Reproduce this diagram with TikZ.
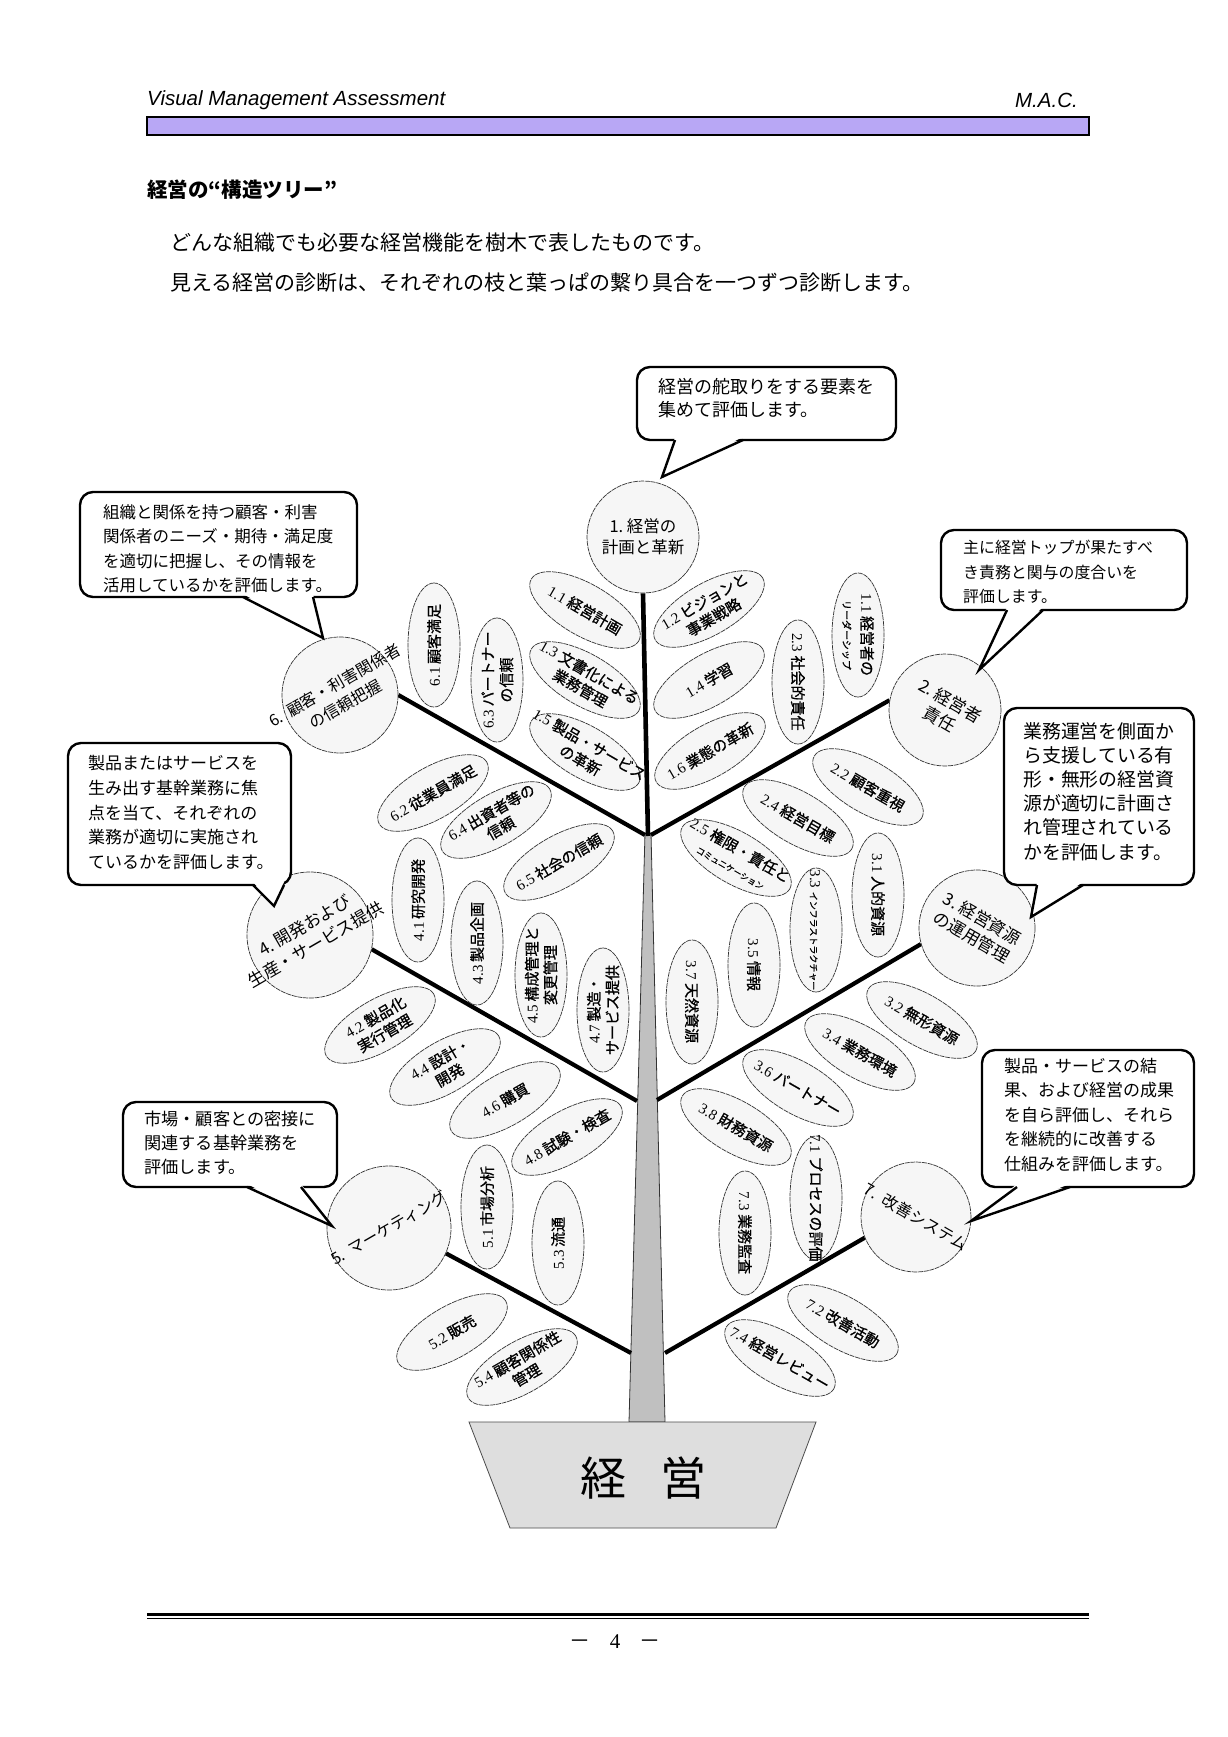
\documentclass[tikz,border=0pt]{standalone}
\usepackage{fontspec}
\usepackage{graphicx}
\setmainfont{Liberation Serif}
\newfontfamily\jp{Noto Sans CJK JP}
\newfontfamily\jpleaf[FakeBold=0.9]{Noto Sans CJK JP}
\newfontfamily\ars{Liberation Sans}
\usetikzlibrary{shapes.geometric}
\pgfdeclarelayer{paper}
\pgfdeclarelayer{bg}
\pgfsetlayers{paper,bg,main}
\XeTeXlinebreaklocale "ja"
\XeTeXlinebreakskip=0pt plus 2pt
\definecolor{barpurple}{RGB}{184,167,245}
\definecolor{leaffill}{RGB}{246,246,246}
\definecolor{trunkgray}{RGB}{192,192,192}
\definecolor{potgray}{RGB}{222,222,222}
\newcommand\ctr[1]{\makebox[0pt]{\raisebox{-0.38em}[0pt][0pt]{\begin{tabular}{@{}c@{}}#1\end{tabular}}}}
\newcommand\nm[1]{{\rmfamily #1}}
\newcommand\jst[2]{\makebox[#1][s]{#2}}
\newcommand\smtxt[2]{{\fontsize{#1}{12}\selectfont #2}}
\begin{document}
\begin{tikzpicture}[x=1pt,y=-1pt,
  leaf/.style={ellipse, draw=black!80, line width=0.7pt, dash pattern=on 5pt off 0.8pt, fill=leaffill,
    minimum width=124pt, minimum height=52pt, inner sep=0pt, font=\jpleaf\fontsize{15}{18.5}\selectfont},
  maincirc/.style={circle, draw=black!80, line width=0.7pt, dash pattern=on 5pt off 0.8pt, fill=leaffill,
    inner sep=0pt, font=\jp\fontsize{16.5}{21}\selectfont},
  branchline/.style={line width=4.2pt},
  bubble/.style={draw=black, line width=2.4pt, fill=white, rounded corners=13pt},
  tailline/.style={draw=black, line width=2.4pt, line join=miter},
  btext/.style={anchor=north west, inner sep=0pt, align=left},
  plain/.style={inner sep=0pt}
]
\useasboundingbox (0,0) rectangle (1228,1737);
\begin{pgfonlayer}{paper}
  \fill[white] (0,0) rectangle (1228,1737);
\end{pgfonlayer}

% header
\node[plain, anchor=west, font=\ars\itshape\fontsize{20.5}{24}\selectfont] (hdr) at (147,100) {Visual Management Assessment};
\node[plain, anchor=east, font=\ars\itshape\fontsize{20.5}{24}\selectfont] (mac) at (1078,100) {M.A.C.};
\draw[line width=2pt, fill=barpurple] (147,117) rectangle (1089,135);

% title and intro
\node[plain, anchor=west, font=\jp\bfseries\fontsize{20.5}{24}\selectfont] (title) at (147,190) {経営の“構造ツリー”};
\node[plain, anchor=west, font=\jp\fontsize{21}{25}\selectfont] (intro1) at (170,243) {どんな組織でも必要な経営機能を樹木で表したものです。};
\node[plain, anchor=west, font=\jp\fontsize{21}{25}\selectfont] (intro2) at (170,283) {見える経営の診断は、それぞれの枝と葉っぱの繋り具合を一つずつ診断します。};

% leaves - left
\node[leaf, rotate=-30] (l11) at (585,610) {\ctr{\nm{1.1} 経営計画}};
\node[leaf, rotate=30] (l12) at (709,609) {\ctr{\nm{1.2} ビジョンと\\事業戦略}};
\node[leaf, rotate=-30] (l13) at (585,680) {\ctr{\nm{1.3} 文書化による\\業務管理}};
\node[leaf, rotate=30] (l14) at (709,680) {\ctr{\nm{1.4} 学習}};
\node[leaf, rotate=-30] (l15) at (585,752) {\ctr{\nm{1.5} 製品・サービス\\の革新}};
\node[leaf, rotate=30] (l16) at (710,751) {\ctr{\nm{1.6} 業態の革新}};
\node[leaf, rotate=90] (l61) at (434,645) {\ctr{\nm{6.1} 顧客満足}};
\node[leaf, rotate=90] (l63) at (497,680) {\ctr{\nm{6.3} パートナー\\の信頼}};
\node[leaf, rotate=30] (l62) at (433,793) {\ctr{\nm{6.2} 従業員満足}};
\node[leaf, rotate=30] (l64) at (496,820) {\ctr{\nm{6.4} 出資者等の\\信頼}};
\node[leaf, rotate=30] (l65) at (559,862) {\ctr{\nm{6.5} 社会の信頼}};
\node[leaf, rotate=90] (l41) at (418,900) {\ctr{\nm{4.1} 研究開発}};
\node[leaf, rotate=90] (l43) at (477,943) {\ctr{\nm{4.3} 製品企画}};
\node[leaf, rotate=90] (l45) at (541,975) {\ctr{\nm{4.5} 構成管理と\\変更管理}};
\node[leaf, rotate=90] (l47) at (603,1010) {\ctr{\nm{4.7} 製造・\\サービス提供}};
\node[leaf, rotate=30] (l42) at (380,1025) {\ctr{\nm{4.2} 製品化\\実行管理}};
\node[leaf, rotate=30] (l44) at (445,1067) {\ctr{\nm{4.4} 設計・\\開発}};
\node[leaf, rotate=30] (l46) at (505,1100) {\ctr{\nm{4.6} 購買}};
\node[leaf, rotate=30] (l48) at (567,1137) {\ctr{\nm{4.8} 試験・検査}};
\node[leaf, rotate=90] (l51) at (487,1207) {\ctr{\nm{5.1} 市場分析}};
\node[leaf, rotate=90] (l53) at (558,1243) {\ctr{\nm{5.3} 流通}};
\node[leaf, rotate=30] (l52) at (452,1332) {\ctr{\nm{5.2} 販売}};
\node[leaf, rotate=30] (l54) at (522,1367) {\ctr{\nm{5.4} 顧客関係性\\管理}};

% leaves - right
\node[leaf, rotate=-90] (l21) at (858,635) {\ctr{\nm{1.1} 経営者の\\\smtxt{10}{リーダーシップ}}};
\node[leaf, rotate=-90] (l23) at (798,682) {\ctr{\nm{2.3} 社会的責任}};
\node[leaf, rotate=-30] (l22) at (868,787) {\ctr{\nm{2.2} 顧客重視}};
\node[leaf, rotate=-30] (l24) at (798,818) {\ctr{\nm{2.4} 経営目標}};
\node[leaf, rotate=-30] (l25) at (736,858) {\ctr{\nm{2.5} 権限・責任と\\\smtxt{8.5}{コミュニケーション}}};
\node[leaf, rotate=-90] (l31) at (878,895) {\ctr{\nm{3.1} 人的資源}};
\node[leaf, rotate=-90] (l33) at (816,930) {\ctr{\nm{3.3} \smtxt{9}{インフラストラクチャー}}};
\node[leaf, rotate=-90] (l35) at (754,965) {\ctr{\nm{3.5} 情報}};
\node[leaf, rotate=-90] (l37) at (692,1002) {\ctr{\nm{3.7} 天然資源}};
\node[leaf, rotate=-30] (l32) at (922,1020) {\ctr{\nm{3.2} 無形資源}};
\node[leaf, rotate=-30] (l34) at (860,1052) {\ctr{\nm{3.4} 業務環境}};
\node[leaf, rotate=-30] (l36) at (798,1088) {\ctr{\nm{3.6} パートナー}};
\node[leaf, rotate=-30] (l38) at (736,1127) {\ctr{\nm{3.8} 財務資源}};
\node[leaf, rotate=-90] (l71) at (816,1198) {\ctr{\nm{7.1} プロセスの評価}};
\node[leaf, rotate=-90] (l73) at (745,1233) {\ctr{\nm{7.3} 業務監査}};
\node[leaf, rotate=-30] (l72) at (843,1323) {\ctr{\nm{7.2} 改善活動}};
\node[leaf, rotate=-30] (l74) at (780,1358) {\ctr{\nm{7.4} 経営レビュー}};

% main circles
\node[maincirc, minimum size=112pt] (c1) at (643,537) {\ctr{1.\ 経営の\\計画と革新}};
\node[maincirc, minimum size=116pt, font=\jp\fontsize{16}{22}\selectfont] (c6) at (340,695) {\rotatebox{30}{\ctr{6.\ \ 顧客・利害関係者\\の信頼把握}}};
\node[maincirc, minimum size=112pt, font=\jp\fontsize{17}{21}\selectfont] (c2) at (945,710) {\rotatebox{-30}{\ctr{2.\ 経営者\\責任}}};
\node[maincirc, minimum size=116pt, font=\jp\fontsize{17}{21}\selectfont] (c3) at (977,928) {\rotatebox{-30}{\ctr{3.\ 経営資源\\の運用管理}}};
\node[maincirc, minimum size=126pt, font=\jp\fontsize{17}{22}\selectfont] (c4) at (310,935) {\rotatebox{30}{\ctr{4.\ 開発および\\生産・サービス提供}}};
\node[maincirc, minimum size=124pt, font=\jp\fontsize{16}{20}\selectfont] (c5) at (389,1228) {\rotatebox{30}{\ctr{5.\ \ マーケティング}}};
\node[maincirc, minimum size=110pt, font=\jp\fontsize{16}{20}\selectfont] (c7) at (916,1217) {\rotatebox{-30}{\ctr{7.\ \ 改善システム}}};

% trunk junction points
\coordinate (jtop) at (648,836);
\coordinate (j6) at (645,835);
\coordinate (j2) at (651,835);
\coordinate (j4) at (637,1101);
\coordinate (j3) at (657,1100);
\coordinate (j5) at (631,1353);
\coordinate (j7) at (665,1353);

\begin{pgfonlayer}{bg}
  \filldraw[fill=trunkgray, draw=black!80, line width=0.8pt] (645,833) -- (651,833) -- (665,1422) -- (629,1422) -- cycle;
  \draw[line width=4.6pt] (c1.south) -- (jtop);
  \draw[branchline] (c6.0) -- (j6);
  \draw[branchline] (c2.170) -- (j2);
  \draw[branchline] (c4.-13) -- (j4);
  \draw[branchline] (c3.196) -- (j3);
  \draw[branchline] (c5.-24) -- (j5);
  \draw[branchline] (c7.202) -- (j7);
\end{pgfonlayer}

% pot
\filldraw[fill=potgray, draw=black!70, line width=0.8pt] (469,1422) -- (816,1422) -- (776,1528) -- (510,1528) -- cycle;
\node[plain, font=\jp\fontsize{46}{50}\selectfont] (potlabel) at (643,1478) {経\hspace{34pt}営};

% bubble A (top)
\draw[bubble] (637,367) rectangle (896,440);
\fill[white] (675,437) -- (662,477) -- (743,437) -- cycle;
\draw[tailline] (675,440) -- (662,477) -- (743,440);
\node[btext, font=\jp\fontsize{18}{23}\selectfont] (bA) at (658,378) {経営の舵取りをする要素を\\集めて評価します。};

% bubble B (top left)
\draw[bubble] (80,492) rectangle (357,597);
\fill[white] (243,594) -- (323,638) -- (313,594) -- cycle;
\draw[tailline] (243,597) -- (323,638) -- (313,597);
\node[btext, font=\jp\fontsize{16.5}{24.5}\selectfont] (bB) at (103,504) {\jst{233pt}{組織と関係を持つ顧客・利害}\\\jst{233pt}{関係者のニーズ・期待・満足度}\\\jst{233pt}{を適切に把握し、その情報を}\\\jst{233pt}{活用しているかを評価します。}};

% bubble C (top right)
\draw[bubble] (941,530) rectangle (1187,610);
\fill[white] (1007,607) -- (979,670) -- (1043,607) -- cycle;
\draw[tailline] (1007,610) -- (979,670) -- (1043,610);
\node[btext, font=\jp\fontsize{15.9}{24.5}\selectfont] (bC) at (963,540) {\jst{192pt}{主に経営トップが果たすべ}\\\jst{192pt}{き責務と関与の度合いを}\\評価します。};

% bubble D (right middle)
\draw[bubble] (1004,708) rectangle (1194,885);
\fill[white] (1037,882) -- (1031,917) -- (1083,882) -- cycle;
\draw[tailline] (1037,885) -- (1031,917) -- (1083,885);
\node[btext, font=\jp\fontsize{18.9}{24.2}\selectfont] (bD) at (1023,722) {業務運営を側面か\\ら支援している有\\形・無形の経営資\\源が適切に計画さ\\れ管理されている\\かを評価します。};

% bubble E (left middle)
\draw[bubble] (68,743) rectangle (291,885);
\fill[white] (253,882) -- (274,906) -- (284,882) -- cycle;
\draw[tailline] (253,885) -- (274,906) -- (284,885);
\node[btext, font=\jp\fontsize{17}{24.8}\selectfont] (bE) at (88,755) {\jst{184pt}{製品またはサービスを}\\\jst{184pt}{生み出す基幹業務に焦}\\\jst{184pt}{点を当て、それぞれの}\\\jst{184pt}{業務が適切に実施され}\\ているかを評価します。};

% bubble F (left lower)
\draw[bubble] (123,1102) rectangle (337,1187);
\fill[white] (247,1184) -- (332,1226) -- (301,1184) -- cycle;
\draw[tailline] (247,1187) -- (332,1226) -- (301,1187);
\node[btext, font=\jp\fontsize{17.2}{24}\selectfont] (bF) at (144,1111) {市場・顧客との密接に\\\jst{172pt}{関連する基幹業務を}\\評価します。};

% bubble G (right lower)
\draw[bubble] (982,1050) rectangle (1194,1187);
\fill[white] (1017,1184) -- (971,1221) -- (1070,1184) -- cycle;
\draw[tailline] (1017,1187) -- (971,1221) -- (1070,1187);
\node[btext, font=\jp\fontsize{17}{24.5}\selectfont] (bG) at (1004,1058) {\jst{170pt}{製品・サービスの結}\\果、および経営の成果\\を自ら評価し、それら\\\jst{170pt}{を継続的に改善する}\\仕組みを評価します。};

% footer
\draw[line width=3pt] (147,1614.5) -- (1089,1614.5);
\draw[line width=1.5pt] (147,1618.6) -- (1089,1618.6);
\node[plain, font=\fontsize{21}{24}\selectfont] (pg) at (615,1642) {{\jp －}\hspace{19pt}4\hspace{19pt}{\jp －}};
\end{tikzpicture}
\end{document}
